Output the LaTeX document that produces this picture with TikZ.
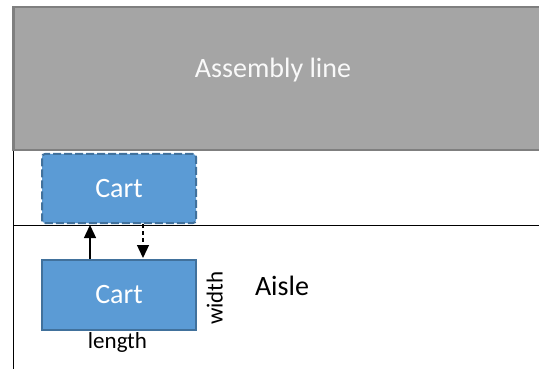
\documentclass[tikz,border=0pt]{standalone}
\usepackage{fontspec}
\setmainfont{Carlito}
\usetikzlibrary{arrows.meta,positioning,calc}
\definecolor{cartfill}{HTML}{5B9BD5}
\definecolor{cartedge}{HTML}{41719C}
\definecolor{linefill}{HTML}{A5A5A5}
\definecolor{lineedge}{HTML}{7F7F7F}
\tikzset{
  big/.style={font=\fontsize{28}{32}\selectfont},
  small/.style={font=\fontsize{23}{26}\selectfont},
  cartbox/.style={rectangle, fill=cartfill, draw=cartedge, line width=2pt,
    minimum width=154pt, minimum height=69pt, inner sep=0pt,
    text=white, big},
  ghost/.style={cartbox, dash pattern=on 8pt off 3pt, rounded corners=3pt},
  wall/.style={line width=1.5pt, black},
  move/.style={line width=1.3pt, -{Triangle[length=13pt,width=12pt]}},
}
\begin{document}
\begin{tikzpicture}[x=1pt,y=-1pt]
  \useasboundingbox (0,0) rectangle (539,369);
  % assembly line block, running off the right edge
  \node[rectangle, fill=linefill, draw=lineedge, line width=2.5pt,
        minimum width=540pt, minimum height=143pt, inner sep=0pt,
        anchor=north west] (assembly) at (12,6) {};
  \node[big, text=white!95!gray] (assemblytext) at (273,70) {Assembly line};
  % aisle boundaries
  \coordinate (wallbottom) at (13.5,372);
  \coordinate (aisleend) at (545,225.5);
  \draw[wall] (assembly.south west -| wallbottom) -- (wallbottom);
  \draw[wall] (13.5,225.5) -- (aisleend);
  % carts
  \node[ghost, anchor=north west] (cartup) at (41,153) {Cart};
  \node[cartbox, anchor=north west, minimum height=70pt] (cartdown) at (41,259) {Cart};
  % moves between the aisle and the line
  \draw[move] ([xshift=49pt]cartdown.north west) -- ([xshift=49pt,yshift=-1pt]cartup.south west);
  \draw[move, dash pattern=on 4pt off 3pt] ([xshift=102pt]cartup.south west) -- ([xshift=102pt,yshift=1pt]cartdown.north west);
  % dimension labels
  \node[small, rotate=90, anchor=north] (width) at (203,298) {width};
  \node[small] (length) at (117.5,342) {length};
  \node[big] (aisle) at (282,286) {Aisle};
\end{tikzpicture}
\end{document}
